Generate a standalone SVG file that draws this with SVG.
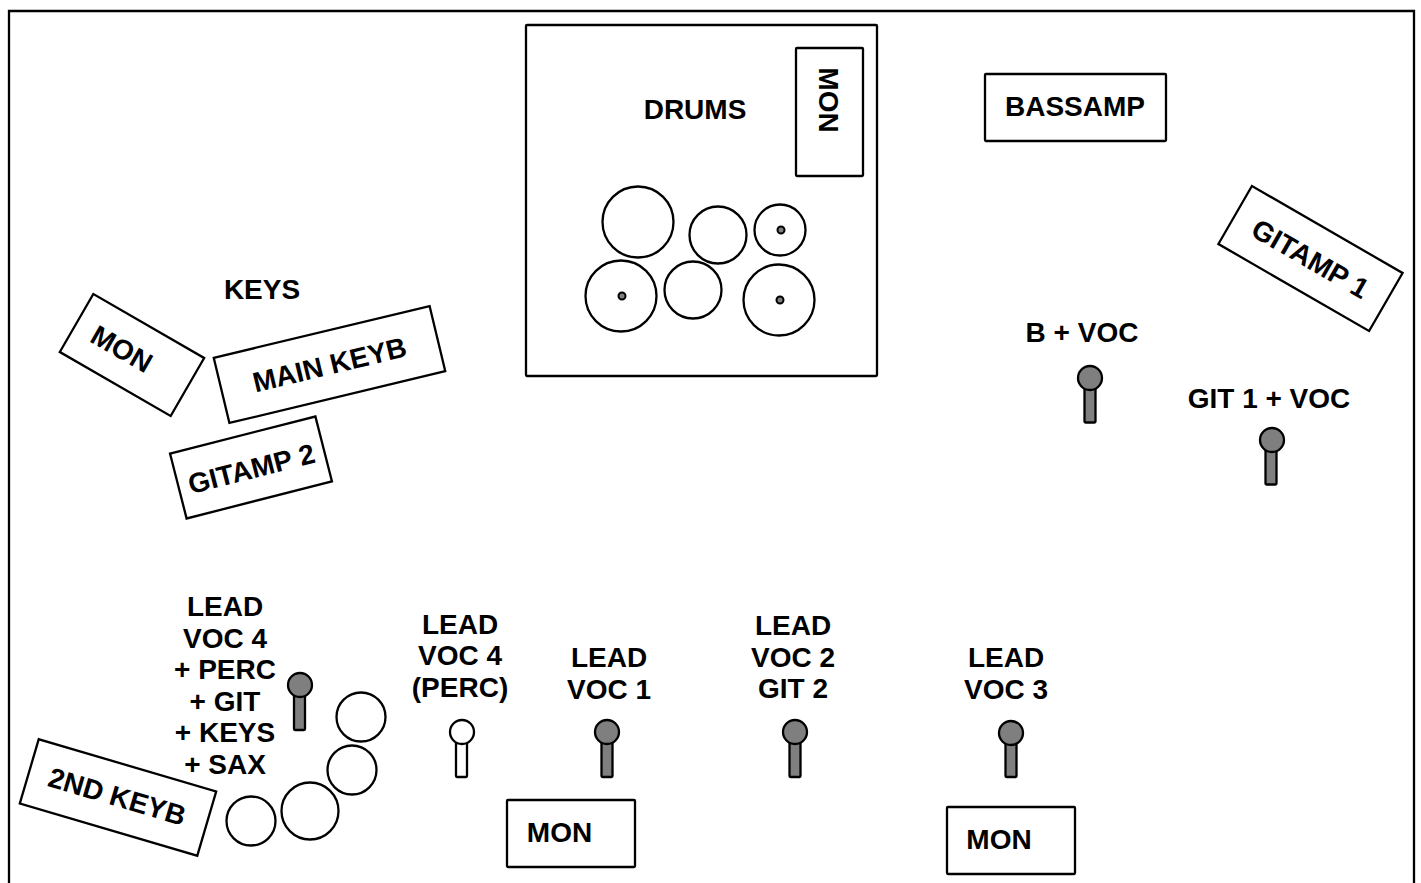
<svg xmlns="http://www.w3.org/2000/svg" width="1421" height="883" viewBox="0 0 1421 883">
<style>
.b{fill:#fff;stroke:#000;stroke-width:2.300}
.t{font-family:"Liberation Sans",Arial,sans-serif;font-weight:700;font-size:28px;fill:#000;text-anchor:middle}
.h{fill:#7f7f7f;stroke:#000;stroke-width:2.300}
.w{fill:#fff;stroke:#000;stroke-width:2.300}
.d{fill:#7f7f7f;stroke:#000;stroke-width:2}
</style>
<rect width="1421" height="883" fill="#fff"/>
<path d="M9 883V11H1414V883" fill="none" stroke="#000" stroke-width="2.300"/>
<g id="drumriser"><rect class="b" x="526" y="25" width="351" height="351" rx="1"/><text class="t" x="695" y="119">DRUMS</text></g>
<g id="drum-mon"><rect class="b" x="796" y="48" width="67" height="128" rx="1"/><text class="t" transform="translate(819 100) rotate(90)">MON</text></g>
<g id="drumkit">
<circle class="b" cx="638" cy="222" r="35.500"/><circle class="b" cx="718" cy="235" r="28.500"/><circle class="b" cx="780" cy="230" r="25.500"/><circle class="d" cx="781" cy="230" r="3.500"/>
<circle class="b" cx="621" cy="296" r="35.500"/><circle class="d" cx="622" cy="296" r="3.500"/><circle class="b" cx="693" cy="290" r="28.500"/><circle class="b" cx="779" cy="300" r="35.500"/><circle class="d" cx="780" cy="300" r="3.500"/>
</g>
<g id="bassamp"><rect class="b" x="985" y="74" width="181" height="67" rx="1"/><text class="t" x="1075" y="116">BASSAMP</text></g>
<g id="gitamp1"><g transform="translate(1310.500 258.500) rotate(30)"><rect class="b" x="-87" y="-33.500" width="174" height="67"/><text class="t" y="10">GITAMP 1</text></g></g>
<g id="keys-label"><text class="t" x="262" y="299">KEYS</text></g>
<g id="keys-mon"><g transform="translate(132 355) rotate(30)"><rect class="b" x="-64" y="-33.500" width="128" height="67"/><text class="t" x="-12" y="9.500">MON</text></g></g>
<g id="main-keyb"><g transform="translate(329.500 364.500) rotate(-13.500)"><rect class="b" x="-111" y="-33.500" width="222" height="67"/><text class="t" y="10">MAIN KEYB</text></g></g>
<g id="gitamp2"><g transform="translate(251 467.500) rotate(-14.300)"><rect class="b" x="-75" y="-33.500" width="150" height="67"/><text class="t" y="11">GITAMP 2</text></g></g>
<g id="b-voc"><text class="t" x="1082" y="342">B + VOC</text><rect class="h" x="1084.500" y="386" width="11" height="36.500" rx="1"/><circle class="h" cx="1090" cy="378" r="12"/></g>
<g id="git1-voc"><text class="t" x="1269" y="408">GIT 1 + VOC</text><rect class="h" x="1265.500" y="448" width="11" height="36.500" rx="1"/><circle class="h" cx="1272" cy="440" r="12"/></g>
<g id="lead4-perc-git"><text class="t" x="225" y="616">LEAD</text><text class="t" x="225" y="648">VOC 4</text><text class="t" x="225" y="679">+ PERC</text><text class="t" x="225" y="711">+ GIT</text><text class="t" x="225" y="742">+ KEYS</text><text class="t" x="225" y="774">+ SAX</text><rect class="h" x="294" y="694" width="11" height="36" rx="1"/><circle class="h" cx="300" cy="685" r="12"/></g>
<g id="lead4"><text class="t" x="460" y="634">LEAD</text><text class="t" x="460" y="665">VOC 4</text><text class="t" x="460" y="697">(PERC)</text><rect class="w" x="456" y="741" width="11" height="36" rx="1"/><circle class="w" cx="462" cy="732" r="12"/></g>
<g id="lead1"><text class="t" x="609" y="667">LEAD</text><text class="t" x="609" y="699">VOC 1</text><rect class="h" x="601.500" y="741" width="11" height="36" rx="1"/><circle class="h" cx="607" cy="732" r="12"/></g>
<g id="lead2"><text class="t" x="793" y="635">LEAD</text><text class="t" x="793" y="667">VOC 2</text><text class="t" x="793" y="698">GIT 2</text><rect class="h" x="789.500" y="741" width="11" height="36" rx="1"/><circle class="h" cx="795" cy="732" r="12"/></g>
<g id="lead3"><text class="t" x="1006" y="667">LEAD</text><text class="t" x="1006" y="699">VOC 3</text><rect class="h" x="1005.500" y="741" width="11" height="36" rx="1"/><circle class="h" cx="1011" cy="733" r="12"/></g>
<g id="keyb2"><g transform="translate(118 797.500) rotate(16.400)"><rect class="b" x="-92.500" y="-33.500" width="185" height="67"/><text class="t" x="-1" y="9">2ND KEYB</text></g></g>
<g id="perc"><circle class="b" cx="361" cy="717" r="24.500"/><circle class="b" cx="352" cy="770" r="24.500"/><circle class="b" cx="310" cy="811" r="28.500"/><circle class="b" cx="251" cy="821" r="24.500"/></g>
<g id="mon1"><rect class="b" x="507" y="800" width="128" height="67" rx="1"/><text class="t" x="559.500" y="842">MON</text></g>
<g id="mon2"><rect class="b" x="947" y="807" width="128" height="67" rx="1"/><text class="t" x="999" y="849">MON</text></g>
</svg>
